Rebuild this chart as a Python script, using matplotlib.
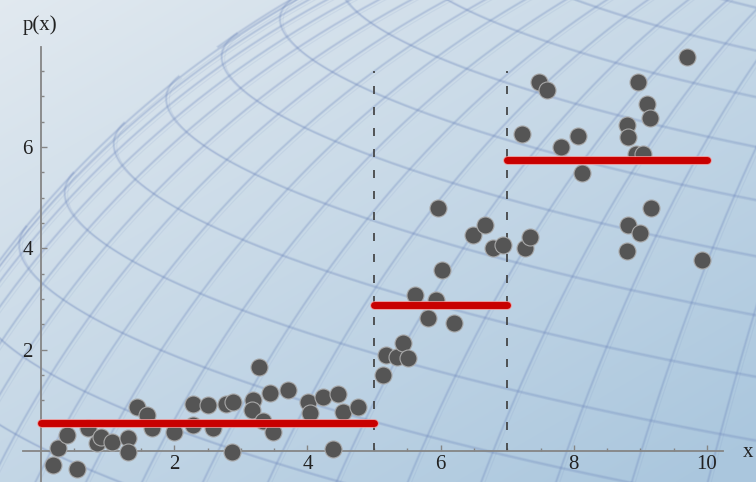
import numpy as np
import matplotlib
matplotlib.use("Agg")
import matplotlib.pyplot as plt
from matplotlib.ticker import FixedLocator

# ==================================
# DATA
# ==================================
pts_x = [0.18, 0.26, 0.39, 0.54, 0.71, 0.84, 0.90, 1.07, 1.31, 1.31,
         1.44, 1.59, 1.67, 2.00, 2.28, 2.28, 2.51, 2.58, 2.78, 2.88,
         2.87, 3.18, 3.17, 3.27, 3.44, 3.33, 3.48, 3.71, 4.01, 4.04,
         4.23, 4.46, 4.53, 4.76, 4.38,
         5.14, 5.18, 5.35, 5.44, 5.51, 5.62, 5.81, 5.93, 6.02, 5.96,
         6.20, 6.49, 6.67, 6.79, 6.94,
         7.27, 7.34, 7.22, 7.48, 7.60, 7.81, 8.06, 8.12, 8.80, 8.81,
         8.96, 9.10, 9.14, 8.94, 9.04, 9.16, 8.81, 8.99, 8.80, 9.70,
         9.92]
pts_y = [-0.28, 0.06, 0.32, -0.36, 0.45, 0.16, 0.28, 0.18, 0.26, -0.02,
         0.87, 0.72, 0.45, 0.38, 0.93, 0.51, 0.91, 0.45, 0.93, 0.97,
         -0.02, 1.01, 0.81, 1.66, 1.15, 0.59, 0.38, 1.21, 0.97, 0.75,
         1.07, 1.13, 0.77, 0.87, 0.04,
         1.50, 1.90, 1.86, 2.13, 1.84, 3.08, 2.63, 2.98, 3.58, 4.80,
         2.53, 4.27, 4.47, 4.01, 4.07,
         4.01, 4.23, 6.26, 7.29, 7.13, 5.99, 6.21, 5.49, 6.44, 6.19,
         7.29, 6.84, 6.58, 5.87, 5.87, 4.80, 4.47, 4.31, 3.95, 7.77,
         3.77]

bin_edges = [0, 5, 7, 10]
bin_means = [0.55, 2.88, 5.74]
split_x = [5, 7]

x_ticks = [2, 4, 6, 8, 10]
y_ticks = [2, 4, 6]

# ==================================
# FIGURE + BACKGROUND
# ==================================
W, H = 756, 482
fig = plt.figure(figsize=(W / 100, H / 100), dpi=100)

bg = fig.add_axes([0, 0, 1, 1], zorder=0)
bg.set_xlim(0, W)
bg.set_ylim(H, 0)
bg.axis("off")

gx, gy = np.meshgrid(np.linspace(0, 1, W), np.linspace(0, 1, H))
t = np.clip(0.5 * gx + 0.55 * gy, 0, 1)[..., None]
light = np.array([0.885, 0.915, 0.94])
dark = np.array([0.67, 0.78, 0.87])
bg.imshow(light * (1 - t) + dark * t, extent=[0, W, H, 0], aspect="auto")

# soft wireframe of a big tilted sphere behind the plot
CX, CY, R = 800, 860, 1000
TILT = np.radians(10)
SPIN = np.radians(-8.8)


def project(lat, lon):
    x = np.cos(lat) * np.sin(lon)
    y = np.sin(lat)
    z = np.cos(lat) * np.cos(lon)
    y1 = y * np.cos(TILT) - z * np.sin(TILT)
    z1 = y * np.sin(TILT) + z * np.cos(TILT)
    x2 = x * np.cos(SPIN) - y1 * np.sin(SPIN)
    y2 = x * np.sin(SPIN) + y1 * np.cos(SPIN)
    px = np.where(z1 > 0, CX + R * x2, np.nan)
    py = np.where(z1 > 0, CY - R * y2, np.nan)
    return px, py


mesh_col = "#6f88bd"


def mesh_line(px, py):
    bg.plot(px, py, color=mesh_col, lw=2.2, alpha=0.13)
    bg.plot(px, py, color=mesh_col, lw=1.0, alpha=0.22)
    bg.plot(px + 3, py + 2, color=mesh_col, lw=0.9, alpha=0.10)


lon_all = np.radians(np.linspace(-180, 180, 1441))
for lat_d in np.arange(-86, 90, 4):
    mesh_line(*project(np.radians(lat_d), lon_all))
lat_all = np.radians(np.linspace(-90, 90, 721))
for lon_d in np.arange(-180, 180, 5):
    mesh_line(*project(lat_all, np.radians(lon_d)))

# ==================================
# MAIN AXES
# ==================================
XS, YS = 66.6, 50.67
X0, Y0 = 41, 451
ax = fig.add_axes([0, 0, 1, 1], zorder=1)
ax.patch.set_alpha(0)
ax.set_xlim(-X0 / XS, (W - X0) / XS)
ax.set_ylim(-(H - Y0) / YS, Y0 / YS)

for s in ["top", "right"]:
    ax.spines[s].set_visible(False)
ax.spines["left"].set_position(("data", 0))
ax.spines["bottom"].set_position(("data", 0))
ax.spines["left"].set_bounds(-1, 7.97)
ax.spines["bottom"].set_bounds(-0.27, 10.24)
for s in ["left", "bottom"]:
    ax.spines[s].set_color("#858585")
    ax.spines[s].set_linewidth(1.3)

ax.xaxis.set_major_locator(FixedLocator(x_ticks))
ax.yaxis.set_major_locator(FixedLocator(y_ticks))
ax.xaxis.set_minor_locator(FixedLocator(np.arange(0.5, 10.01, 0.5)))
ax.yaxis.set_minor_locator(FixedLocator(np.arange(0.5, 7.51, 0.5)))
ax.tick_params(which="both", direction="in", color="#858585", width=1.0,
               labelsize=15, labelcolor="#222222")
ax.tick_params(which="major", length=4)
ax.tick_params(which="minor", length=2.5)
ax.tick_params(axis="x", which="major", pad=3)
ax.tick_params(axis="y", which="major", pad=6)
for lab in ax.get_xticklabels() + ax.get_yticklabels():
    lab.set_family("Liberation Serif")

ax.text(-0.015, 8.31, "p(x)", ha="center", va="baseline", fontsize=15,
        family="Liberation Serif", color="#222222")
ax.text(10.62, -0.118, "x", ha="center", va="baseline", fontsize=15,
        family="Liberation Serif", color="#222222")

# dashed split lines
for xs in split_x:
    ax.plot([xs, xs], [0, 7.5], color="#3c3c3c", lw=1.2,
            linestyle=(0, (4.8, 7.8)), zorder=2)

# points
ax.scatter(pts_x, pts_y, s=150, color="#555555", edgecolors="#a8a8a8",
           linewidths=0.8, zorder=3)

# bin means
for i in range(len(bin_means)):
    ax.plot([bin_edges[i], bin_edges[i + 1]], [bin_means[i], bin_means[i]],
            color="#f09090", lw=6.2, solid_capstyle="round", zorder=4)
    ax.plot([bin_edges[i], bin_edges[i + 1]], [bin_means[i], bin_means[i]],
            color="#c80000", lw=5.0, solid_capstyle="round", zorder=5)

fig.savefig("out.png", dpi=100)
